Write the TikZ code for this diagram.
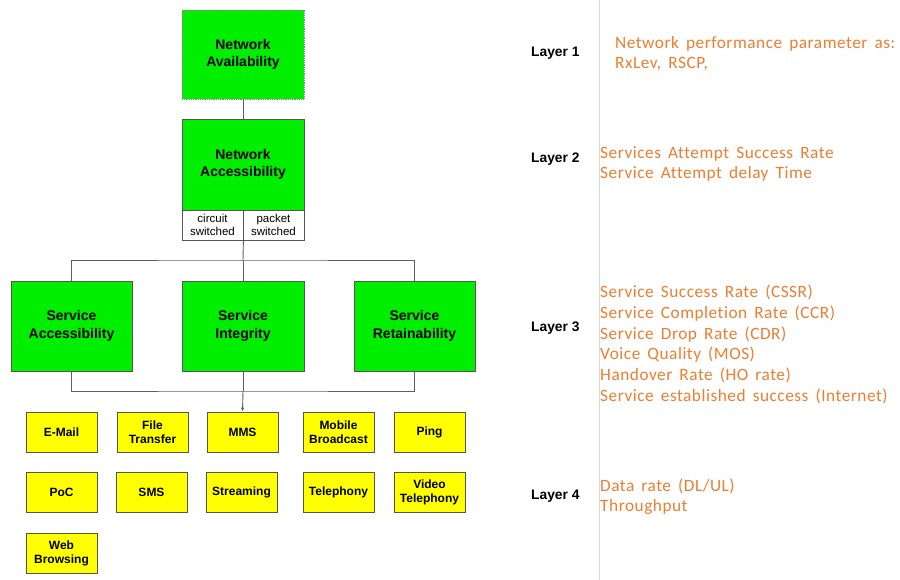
\documentclass[tikz,border=0pt]{standalone}
\usepackage{fontspec}
\setmainfont{Liberation Sans}
\newfontfamily\notefont[LetterSpace=3,WordSpace=1.6,Ligatures=NoCommon]{Carlito}
\usetikzlibrary{arrows.meta}
\definecolor{kpigreen}{HTML}{00EE00}
\definecolor{kpiyellow}{HTML}{FFFF00}
\definecolor{boxline}{HTML}{555555}
\definecolor{wireline}{HTML}{606060}
\definecolor{noteorange}{HTML}{ED7D31}
\definecolor{divider}{HTML}{D9D9D9}
\begin{document}
\begin{tikzpicture}[x=1pt,y=-1pt,
  gbox/.style={draw=boxline, fill=kpigreen, line width=0.8pt, minimum width=122pt,
    minimum height=90pt, inner sep=0pt, align=center,
    font=\bfseries\fontsize{14}{17.5}\selectfont},
  ybox/.style={draw=boxline, fill=kpiyellow, line width=0.8pt, minimum width=71pt,
    minimum height=40pt, inner sep=0pt, align=center,
    font=\bfseries\fontsize{12}{14}\selectfont},
  wbox/.style={draw=boxline, fill=white, line width=0.8pt, minimum width=61pt,
    minimum height=30pt, inner sep=0pt, align=center,
    font=\fontsize{11.5}{13}\selectfont},
  wire/.style={draw=wireline, line width=0.9pt},
  layerlabel/.style={anchor=base west, inner sep=0pt,
    font=\bfseries\fontsize{13.8}{16}\selectfont},
  note/.style={anchor=base west, inner sep=0pt, text=noteorange,
    font=\notefont\fontsize{17.3}{20}\selectfont}]
\useasboundingbox (0,0) rectangle (900,580);

% divider between the diagram and the notes
\draw[divider, line width=0.8pt] (599,0) -- (599,580);

% top of the hierarchy
\node[gbox, draw=boxline!70, densely dotted, minimum height=89pt] (avail) at (243,54.5) {Network\\Availability};
\node[gbox, minimum height=91pt] (access) at (243,164.5) {Network\\Accessibility};
\node[wbox] (circuit) at (212.5,225) {circuit\\switched};
\node[wbox] (packet) at (273.5,225) {packet\\switched};

% service level
\node[gbox, minimum width=121pt] (sacc) at (71.5,326) {Service\\Accessibility};
\node[gbox] (sint) at (243,326) {Service\\Integrity};
\node[gbox, minimum width=121pt] (sret) at (414.5,326) {Service\\Retainability};

% services
\node[ybox] (email) at (61.5,432) {E-Mail};
\node[ybox] (ftp) at (152.5,432) {File\\Transfer};
\node[ybox] (mms) at (242.5,432) {MMS};
\node[ybox] (mbc) at (338.5,432) {Mobile\\Broadcast};
\node[ybox] (ping) at (429.5,432) {Ping};
\node[ybox] (poc) at (61.5,492) {PoC};
\node[ybox] (sms) at (151.5,492) {SMS};
\node[ybox] (stream) at (241.5,492) {Streaming};
\node[ybox] (tel) at (338.5,492) {Telephony};
\node[ybox] (vtel) at (429.5,492) {Video\\Telephony};
\node[ybox] (web) at (61.5,553) {Web\\Browsing};

% connectors
\coordinate (topbar) at (243,260);
\coordinate (lowbar) at (243,391);
\draw[wire] (avail) -- (access);
\draw[wire] (circuit.south east) -- (topbar);
\draw[wire] (sacc.north) |- (topbar) -| (sret.north);
\draw[wire] (topbar) -- (sint.north);
\draw[wire] (sacc.south) |- (lowbar) -| (sret.south);
\draw[wire] (sint.south) -- (lowbar);
\draw[wire, -{Latex[length=4pt,width=3.5pt]}] (lowbar) -- (mms.north);

% layer labels
\node[layerlabel] (l1) at (531,57) {Layer 1};
\node[layerlabel] (l2) at (531,163) {Layer 2};
\node[layerlabel] (l3) at (531,331) {Layer 3};
\node[layerlabel] (l4) at (531,499) {Layer 4};

% measured parameters per layer
\node[note] (n1a) at (615,49) {Network performance parameter as:};
\node[note] (n1b) at (615,69) {RxLev, RSCP,};
\node[note] (n2a) at (600,159) {Services Attempt Success Rate};
\node[note] (n2b) at (600,179) {Service Attempt delay Time};
\node[note] (n3a) at (600,298) {Service Success Rate (CSSR)};
\node[note] (n3b) at (600,318.6) {Service Completion Rate (CCR)};
\node[note] (n3c) at (600,339.2) {Service Drop Rate (CDR)};
\node[note] (n3d) at (600,359.8) {Voice Quality (MOS)};
\node[note] (n3e) at (600,380.4) {Handover Rate (HO rate)};
\node[note] (n3f) at (600,401) {Service established success (Internet)};
\node[note] (n4a) at (600,491.5) {Data rate (DL/UL)};
\node[note] (n4b) at (600,511) {Throughput};
\end{tikzpicture}
\end{document}
